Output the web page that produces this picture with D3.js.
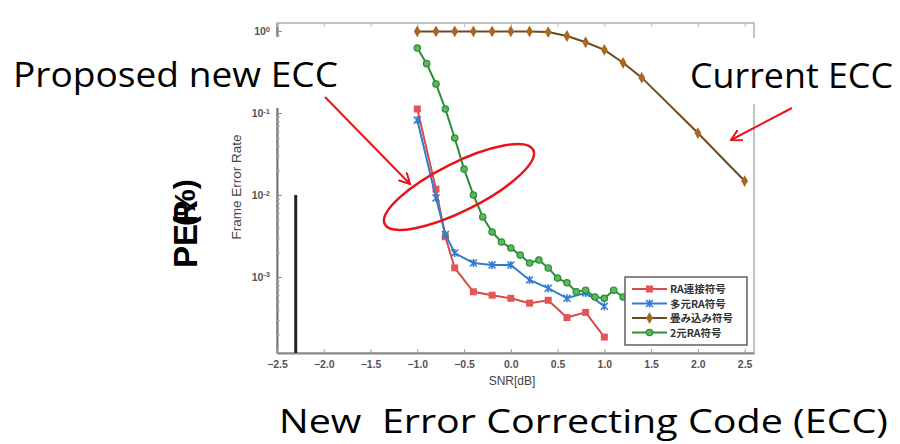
<!DOCTYPE html>
<html>
<head>
<meta charset="utf-8">
<script src="https://cdn.jsdelivr.net/npm/d3@7/dist/d3.min.js"></script>
<style>
  body { margin: 0; background: #fff; }
  svg { display: block; }
</style>
</head>
<body>
<div id="chart"></div>
<script>
// SNR [dB] values for each curve
var snrRA = [-1.0, -0.8, -0.7, -0.6, -0.4, -0.2, 0.0, 0.2, 0.4, 0.6, 0.8, 1.0];
var ferRA = [0.112, 0.0118, 0.0031, 0.00129, 0.00066, 0.0006, 0.00055, 0.00048, 0.00052, 0.00032, 0.00037, 0.000185];
var ferMulti = [0.082, 0.0092, 0.0033, 0.00196, 0.00148, 0.0014, 0.0014, 0.00092, 0.00073, 0.00055, 0.00064, 0.00044];

var snrConv = [-1.0, -0.8, -0.6, -0.4, -0.2, 0.0, 0.2, 0.4, 0.6, 0.8, 1.0, 1.2, 1.4, 2.0, 2.5];
var ferConv = [0.99, 0.99, 0.99, 0.99, 0.99, 0.99, 0.99, 0.97, 0.87, 0.73, 0.59, 0.41, 0.27, 0.057, 0.0148];

var snrBin = [-1.0, -0.9, -0.8, -0.7, -0.6, -0.5, -0.4, -0.3, -0.2, -0.1, 0.0, 0.1, 0.2, 0.3, 0.4, 0.5, 0.6, 0.7, 0.8, 0.9, 1.0, 1.1, 1.2];
var ferBin = [0.62, 0.40, 0.226, 0.112, 0.0496, 0.0207, 0.0100, 0.0054, 0.00354, 0.00267, 0.00226, 0.00185, 0.00148, 0.00161, 0.00129, 0.00097, 0.00085, 0.00066, 0.00069, 0.00057, 0.00055, 0.00069, 0.00057];

var xTicks = [-2.5, -2.0, -1.5, -1.0, -0.5, 0.0, 0.5, 1.0, 1.5, 2.0, 2.5];
var yTicks = [1, 0.1, 0.01, 0.001];
var yTickExp = ['0', '-1', '-2', '-3'];

var legendLabels = ['RA連接符号', '多元RA符号', '畳み込み符号', '2元RA符号'];

// stray vertical bar in the scan
var barSnr = [-2.3];
var barTop = [0.01];

var svgWidth = 900;
var svgHeight = 444;

var svg = d3.select('#chart').append('svg')
    .attr('width', svgWidth).attr('height', svgHeight);

var plot = { left: 277, right: 754, top: 23, bottom: 353 };

var x = d3.scaleLinear().domain([-2.5, 2.6]).range([plot.left, plot.right]);
var y = d3.scaleLog().domain([Math.pow(10, 0.098), Math.pow(10, -3.927)]).range([plot.top, plot.bottom]);

// frame
svg.append('rect')
    .attr('x', plot.left).attr('y', plot.top)
    .attr('width', plot.right - plot.left).attr('height', plot.bottom - plot.top)
    .attr('fill', 'none').attr('stroke', '#9a9a9a').attr('stroke-width', 1.2);

// minor ticks for the log axis
var minor = [];
for (var e = -4; e <= 0; e++) {
    for (var m = 2; m <= 9; m++) {
        var v = m * Math.pow(10, e);
        if (v < y.domain()[0] && v > y.domain()[1]) minor.push(v);
    }
}

var yAxis = d3.axisLeft(y).tickValues(yTicks).tickSizeInner(-5).tickSizeOuter(0).tickPadding(7).tickFormat(function() { return ''; });
var gy = svg.append('g').attr('transform', 'translate(' + plot.left + ',0)').call(yAxis);
gy.select('.domain').attr('stroke', '#777').attr('stroke-width', 2);
gy.selectAll('.tick line').attr('stroke', '#888');
gy.selectAll('.tick text')
    .attr('fill', '#555').style('font-family', 'Liberation Sans, Arial, sans-serif').style('font-size', '10.5px')
    .attr('font-weight', 'bold')
    .each(function(d, i) {
        var t = d3.select(this);
        t.append('tspan').text('10');
        t.append('tspan').attr('dy', '-0.45em').style('font-size', '7.5px').text(yTickExp[i]);
    });

svg.append('g').attr('transform', 'translate(' + plot.left + ',0)')
    .call(d3.axisLeft(y).tickValues(minor).tickSizeInner(-3).tickSizeOuter(0).tickFormat(''))
    .call(function(g) { g.select('.domain').remove(); g.selectAll('line').attr('stroke', '#aaa'); });

var xAxis = d3.axisBottom(x).tickValues(xTicks).tickSizeInner(-4).tickSizeOuter(0).tickPadding(8).tickFormat(d3.format('.1f'));
var gx = svg.append('g').attr('transform', 'translate(0,' + plot.bottom + ')').call(xAxis);
gx.select('.domain').attr('stroke', '#888').attr('stroke-width', 2);
gx.selectAll('.tick line').attr('stroke', '#999');
gx.selectAll('.tick text')
    .attr('fill', '#555').attr('font-weight', 'bold')
    .style('font-family', 'Liberation Sans, Arial, sans-serif').style('font-size', '10.5px');

// top ticks
svg.append('g').attr('transform', 'translate(0,' + plot.top + ')')
    .call(d3.axisTop(x).tickValues(xTicks).tickSizeInner(-4).tickSizeOuter(0).tickFormat(''))
    .call(function(g) { g.select('.domain').remove(); g.selectAll('line').attr('stroke', '#bbb'); });

// axis titles
svg.append('text')
    .attr('x', 512).attr('y', 385).attr('text-anchor', 'middle')
    .attr('fill', '#444').style('font-family', 'Liberation Sans, Arial, sans-serif').style('font-size', '12px')
    .text('SNR[dB]');

svg.append('text')
    .attr('transform', 'translate(241,187) rotate(-90)').attr('text-anchor', 'middle')
    .attr('fill', '#444').style('font-family', 'Liberation Sans, Arial, sans-serif').style('font-size', '13.5px')
    .text('Frame Error Rate');

// vertical bar
svg.selectAll('.bar').data(barSnr).enter().append('line')
    .attr('class', 'bar')
    .attr('x1', function(d) { return x(d); }).attr('x2', function(d) { return x(d); })
    .attr('y1', function(d, i) { return y(barTop[i]); }).attr('y2', plot.bottom)
    .attr('stroke', '#222').attr('stroke-width', 3);

// series
var series = [
    { name: legendLabels[0], snr: snrRA, fer: ferRA, line: '#d94a4a', fill: '#e25656', shape: 'square' },
    { name: legendLabels[1], snr: snrRA, fer: ferMulti, line: '#2f7dd0', fill: '#2f7dd0', shape: 'cross' },
    { name: legendLabels[2], snr: snrConv, fer: ferConv, line: '#6e4a1e', fill: '#a8691f', shape: 'dot' },
    { name: legendLabels[3], snr: snrBin, fer: ferBin, line: '#2a8f36', fill: '#5cb85c', shape: 'circle' }
];

var line = d3.line()
    .x(function(d) { return x(d[0]); })
    .y(function(d) { return y(d[1]); });

function drawMarker(g, shape, s) {
    if (shape === 'square') {
        g.append('rect').attr('x', -3.5).attr('y', -3.5).attr('width', 7).attr('height', 7)
            .attr('fill', s.fill);
    } else if (shape === 'cross') {
        g.append('path').attr('d', 'M-3.5,-3.5L3.5,3.5M-3.5,3.5L3.5,-3.5M0,-4L0,4')
            .attr('stroke', s.fill).attr('stroke-width', 1.6);
    } else if (shape === 'dot') {
        g.append('path').attr('d', d3.symbol().type(d3.symbolDiamond).size(40)())
            .attr('fill', s.fill);
    } else {
        g.append('circle').attr('r', 3.2).attr('fill', s.fill).attr('stroke', s.line).attr('stroke-width', 1.2);
    }
}

series.forEach(function(s) {
    var pts = s.snr.map(function(v, i) { return [v, s.fer[i]]; });
    svg.append('path').datum(pts)
        .attr('d', line).attr('fill', 'none')
        .attr('stroke', s.line).attr('stroke-width', 2);
    svg.selectAll(null).data(pts).enter().append('g')
        .attr('transform', function(d) { return 'translate(' + x(d[0]) + ',' + y(d[1]) + ')'; })
        .each(function() { drawMarker(d3.select(this), s.shape, s); });
});

// legend
var legend = svg.append('g').attr('transform', 'translate(625,277)');
legend.append('rect').attr('width', 122).attr('height', 68)
    .attr('fill', '#fff').attr('stroke', '#555').attr('stroke-width', 1.4);
series.forEach(function(s, i) {
    var ly = 12 + i * 14.5;
    legend.append('line').attr('x1', 7).attr('x2', 42).attr('y1', ly).attr('y2', ly)
        .attr('stroke', s.line).attr('stroke-width', 2);
    drawMarker(legend.append('g').attr('transform', 'translate(24.5,' + ly + ')'), s.shape, s);
    legend.append('text').attr('x', 45).attr('y', ly + 4)
        .attr('fill', '#333').attr('font-weight', 'bold')
        .style('font-family', 'Noto Sans CJK JP, sans-serif').style('font-size', '10.5px')
        .text(s.name);
});

// annotations
var annoFont = 'Open Sans, Lato, sans-serif';

svg.append('rect').attr('x', 0).attr('y', 37).attr('width', 362).attr('height', 71).attr('fill', '#fff');
svg.append('text').attr('x', 13).attr('y', 87)
    .attr('textLength', 325).attr('lengthAdjust', 'spacingAndGlyphs')
    .style('font-family', annoFont).style('font-size', '35px').attr('fill', '#000')
    .text('Proposed new ECC');

svg.append('rect').attr('x', 674).attr('y', 38).attr('width', 226).attr('height', 66).attr('fill', '#fff');
svg.append('text').attr('x', 690).attr('y', 88)
    .attr('textLength', 203).attr('lengthAdjust', 'spacingAndGlyphs')
    .style('font-family', annoFont).style('font-size', '35px').attr('fill', '#000')
    .text('Current ECC');

svg.append('text').attr('x', 279).attr('y', 433)
    .attr('textLength', 609).attr('lengthAdjust', 'spacingAndGlyphs')
    .style('font-family', annoFont).style('font-size', '33px').style('white-space', 'pre').attr('fill', '#000')
    .text('New  Error Correcting Code (ECC)');

// PER(%) label
svg.append('text').attr('transform', 'translate(197,268) rotate(-90)')
    .attr('font-weight', 'bold').style('font-family', 'Liberation Sans, Arial, sans-serif').style('font-size', '33px')
    .attr('fill', '#000').text('PER');
svg.append('text').attr('transform', 'translate(195,226) rotate(-90)')
    .attr('font-weight', 'bold').style('font-family', 'Liberation Sans, Arial, sans-serif').style('font-size', '30px')
    .attr('fill', '#000').text('(%)');

// arrows and ellipse
var defs = svg.append('defs');
defs.append('marker').attr('id', 'arrow').attr('viewBox', '0 0 12 12')
    .attr('refX', 11).attr('refY', 6).attr('markerWidth', 12).attr('markerHeight', 12)
    .attr('markerUnits', 'userSpaceOnUse').attr('orient', 'auto')
    .append('path').attr('d', 'M0,0L11,6L0,12').attr('fill', 'none')
    .attr('stroke', '#e8141a').attr('stroke-width', 2);

svg.append('line').attr('x1', 325).attr('y1', 97).attr('x2', 410).attr('y2', 184)
    .attr('stroke', '#e8141a').attr('stroke-width', 2).attr('marker-end', 'url(#arrow)');
svg.append('line').attr('x1', 792).attr('y1', 108).attr('x2', 731).attr('y2', 140)
    .attr('stroke', '#e8141a').attr('stroke-width', 2).attr('marker-end', 'url(#arrow)');

svg.append('ellipse').attr('cx', 459).attr('cy', 187).attr('rx', 83).attr('ry', 24)
    .attr('transform', 'rotate(-26.6,459,187)')
    .attr('fill', 'none').attr('stroke', '#e8141a').attr('stroke-width', 2.5);
</script>
</body>
</html>
